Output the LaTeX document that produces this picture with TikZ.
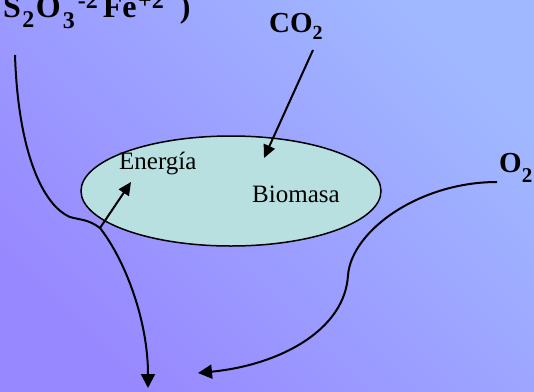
\documentclass[tikz,border=0pt]{standalone}
\usepackage{fontspec}
\setmainfont{Liberation Serif}
\usetikzlibrary{arrows.meta}
\definecolor{bgtop}{RGB}{160,184,255}
\definecolor{bgbot}{RGB}{152,136,255}
\definecolor{cellfill}{RGB}{184,224,224}
\newcommand\mysub[3]{\raisebox{-#2pt}{\fontsize{#3}{#3}\selectfont #1}}
\newcommand\mysup[3]{\raisebox{#2pt}{\fontsize{#3}{#3}\selectfont #1}}
\begin{document}
\begin{tikzpicture}[x=1pt,y=-1pt,
  flow/.style={line width=2pt,-{Triangle[length=14pt,width=14pt]}},
  small/.style={line width=2pt,-{Triangle[length=13pt,width=12pt]}},
  boldtxt/.style={inner sep=0pt,anchor=base west,font=\bfseries\fontsize{29}{29}\selectfont},
  plaintxt/.style={inner sep=0pt,anchor=base west,font=\fontsize{25}{25}\selectfont},
  cell/.style={draw=black,line width=1.5pt,fill=cellfill}]
\useasboundingbox (0,0) rectangle (534,391);
\shade[bottom color=bgbot,top color=bgtop,shading angle=-45] (0,0) rectangle (534,391);
% cell
\draw[cell] (231,191) ellipse [x radius=150pt,y radius=55pt];
\node[plaintxt] (energia) at (119,169) {Energía};
\node[plaintxt] (biomasa) at (252,202) {Biomasa};
% labels
\node[boldtxt,font=\bfseries\fontsize{32}{32}\selectfont] (thio) at (3,17)
  {S\kern1.5pt\mysub{2}{10}{24}\kern1.5pt O\kern2pt\mysub{3}{11}{24}\kern3pt\mysup{-2}{9}{24}\kern5pt Fe\kern1.5pt\mysup{+2}{9}{24}\kern16pt)};
\node[boldtxt] (co2) at (269,32) {CO\mysub{2}{7}{20}};
\node[boldtxt] (o2) at (499,172) {O\mysub{2}{10}{21}};
% coordinates
\coordinate (lstart) at (15,55);
\coordinate (bump) at (70,217);
\coordinate (cross) at (100,228);
\coordinate (lend) at (148,388);
\coordinate (etip) at (131,182);
\coordinate (cstart) at (313,50);
\coordinate (ctip) at (264,158);
\coordinate (ostart) at (497,182);
\coordinate (omid) at (348,275);
\coordinate (oend) at (198,373);
% connectors
\draw[flow] (lstart) .. controls (18,150) and (42,205) .. (bump)
  .. controls (80,220) and (88,219) .. (cross)
  .. controls (125,260) and (148,320) .. (lend);
\draw[small] (cross) -- (etip);
\draw[small] (cstart) -- (ctip);
\draw[flow] (ostart) .. controls (420,182) and (352,230) .. (omid)
  .. controls (345,330) and (280,365) .. (oend);
\end{tikzpicture}
\end{document}
